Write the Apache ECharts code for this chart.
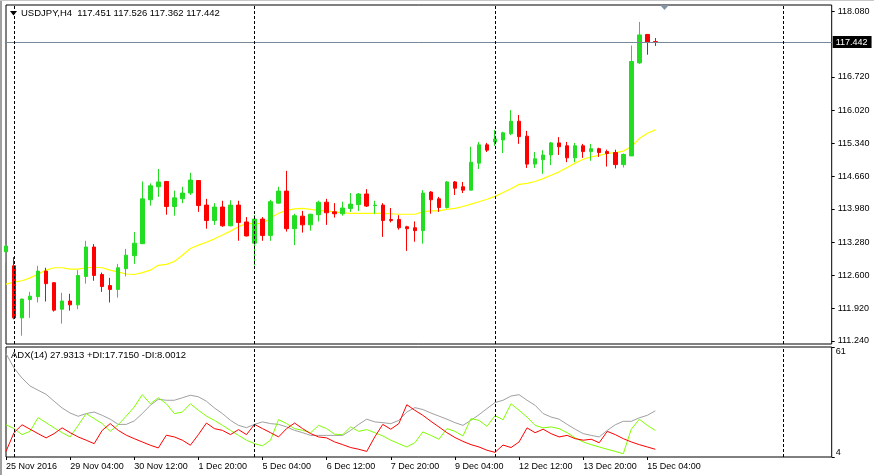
<!DOCTYPE html>
<html><head><meta charset="utf-8">
<script src="https://cdn.jsdelivr.net/npm/echarts@6/dist/echarts.min.js"></script>
<style>html,body{margin:0;padding:0;background:#fff}#c{width:874px;height:475px}</style>
</head><body><div id="c"></div>
<script>
// ---- data (USDJPY H4) ----
const opens  = [113.09,112.80,111.72,112.10,112.16,112.69,112.45,111.90,112.07,111.99,
                112.58,113.19,112.62,112.39,112.31,112.74,113.01,113.26,114.17,114.44,
                114.55,114.03,114.19,114.31,114.57,114.06,113.74,114.02,113.63,114.06,
                113.71,113.27,113.77,113.43,114.10,114.35,113.57,113.83,113.65,113.86,
                114.12,113.92,113.88,113.99,114.07,114.29,114.05,114.06,113.76,113.76,
                113.61,113.59,113.53,114.33,114.19,114.01,114.54,114.44,114.37,114.93,
                115.31,115.37,115.41,115.54,115.80,115.49,114.91,115.00,115.10,115.35,
                115.29,115.04,115.29,115.17,115.23,115.17,115.15,114.90,115.08,117.01,
                117.60,117.451];
const highs  = [113.25,112.98,112.12,112.26,112.80,112.76,112.46,112.24,112.22,112.71,
                113.32,113.25,112.66,112.55,112.84,113.15,113.50,114.55,114.51,114.81,
                114.56,114.36,114.44,114.73,114.58,114.19,114.10,114.15,114.16,114.15,
                113.81,113.85,113.81,114.17,114.44,114.77,113.88,113.94,113.88,114.15,
                114.19,114.10,114.13,114.31,114.31,114.39,114.15,114.10,114.00,113.85,
                113.63,113.72,114.37,114.35,114.23,114.56,114.56,114.54,115.27,115.37,
                115.35,115.62,115.58,116.03,115.93,115.60,115.16,115.20,115.37,115.47,
                115.37,115.35,115.33,115.33,115.25,115.21,115.21,115.13,117.37,117.86,
                117.61,117.526];
const lows   = [112.86,111.69,111.35,111.72,112.04,112.06,111.85,111.60,111.87,111.90,
                112.43,112.49,112.26,112.04,112.14,112.58,112.84,113.25,114.05,114.23,
                113.86,113.84,114.10,114.27,113.92,113.57,113.65,113.61,113.62,113.32,
                113.41,112.81,113.32,113.32,114.09,113.51,113.23,113.49,113.53,113.72,
                113.65,113.80,113.84,113.92,113.94,114.02,113.88,113.40,113.70,113.55,
                113.11,113.30,113.26,113.88,113.92,113.99,114.27,114.31,114.37,114.81,
                115.16,115.29,115.14,115.51,115.33,114.83,114.83,114.71,114.89,115.10,
                114.95,114.95,115.04,114.98,115.06,114.86,114.82,114.84,115.08,116.99,
                117.18,117.362];
const closes = [113.21,111.72,112.11,112.17,112.69,112.43,111.88,112.07,111.99,112.60,
                113.19,112.60,112.37,112.31,112.76,113.02,113.27,114.19,114.46,114.54,
                114.03,114.21,114.31,114.58,114.05,113.74,114.02,113.63,114.06,113.70,
                113.42,113.77,113.43,114.13,114.35,113.57,113.84,113.65,113.87,114.12,
                113.90,113.88,114.00,114.08,114.29,114.04,114.06,113.74,113.74,113.59,
                113.57,113.53,114.31,114.17,114.01,114.54,114.41,114.37,114.95,115.31,
                115.20,115.43,115.56,115.80,115.48,114.91,115.02,115.10,115.35,115.27,
                115.04,115.29,115.17,115.23,115.15,115.13,114.90,115.11,117.04,117.59,
                117.44,117.442];
const movingAvg = [112.42,112.46,112.49,112.55,112.63,112.71,112.76,112.76,112.73,112.73,
                112.76,112.77,112.76,112.71,112.67,112.63,112.62,112.66,112.71,112.81,
                112.83,112.89,113.02,113.16,113.23,113.29,113.36,113.44,113.52,113.61,
                113.68,113.67,113.68,113.79,113.89,113.95,113.98,113.99,113.97,113.95,
                113.94,113.92,113.90,113.89,113.89,113.89,113.89,113.89,113.88,113.87,
                113.87,113.87,113.92,113.94,113.94,113.97,113.99,114.03,114.08,114.13,
                114.18,114.24,114.32,114.40,114.49,114.51,114.55,114.61,114.68,114.75,
                114.84,114.93,115.01,115.06,115.09,115.13,115.15,115.18,115.27,115.44,
                115.55,115.62];
const adx = [57.6,50.1,44.9,40.8,38.6,36.5,32.9,29.4,26.8,25.1,
             26.5,27.3,25.6,23.6,20.9,20.9,22.7,26.5,30.8,33.9,
             33.4,33.4,34.7,36.0,35.2,32.9,29.4,26.5,23.0,20.4,
             19.2,20.9,22.2,21.3,20.9,19.6,17.8,16.6,15.2,15.2,
             15.2,15.2,15.2,17.8,20.9,23.6,22.2,21.8,21.3,23.0,
             27.3,29.6,28.6,26.8,25.2,23.6,21.8,20.4,23.0,25.9,
             29.1,32.2,33.4,35.6,36.3,33.4,30.8,26.5,24.7,23.6,
             20.9,18.4,16.1,15.2,14.4,17.8,20.7,22.5,22.5,24.3,
             25.6,27.9313];
const plusDI = [20.7,18.7,15.6,17.3,24.4,21.8,19.1,16.6,14.4,20.4,
                26.5,23.9,21.3,17.3,20.7,25.2,29.9,36.3,31.6,34.7,
                31.6,26.5,27.3,31.6,28.2,25.2,23.0,20.4,17.8,15.2,
                12.7,10.9,9.8,12.7,23.4,21.3,18.7,17.8,16.6,20.4,
                18.7,15.8,15.6,19.6,17.3,18.2,16.6,14.9,12.7,10.9,
                9.2,11.4,17.0,15.2,13.2,18.7,17.3,14.9,23.9,23.0,
                19.9,25.4,23.3,31.6,28.2,24.7,20.4,19.1,19.6,18.7,
                16.6,13.9,11.8,10.4,9.2,8.0,6.9,5.7,18.4,23.6,
                20.4,17.715];
const minusDI = [6.9,16.6,20.7,18.4,16.1,13.9,16.1,19.1,16.6,14.4,
                 12.7,10.9,17.8,21.3,17.8,15.3,13.5,11.8,10.1,8.7,
                 15.3,14.4,12.7,10.1,15.6,21.6,18.7,17.8,15.6,18.2,
                 15.6,20.9,18.7,16.6,14.4,18.7,21.6,18.7,16.1,14.4,
                 13.9,11.8,10.4,8.9,8.0,6.9,14.4,20.9,18.4,21.3,
                 31.1,28.2,25.6,22.5,19.6,16.6,14.1,12.1,10.4,9.2,
                 7.5,6.4,10.2,8.9,11.8,19.1,16.6,18.4,16.1,14.4,
                 15.2,13.5,12.7,13.2,11.4,17.3,15.6,13.5,11.8,10.4,
                 9.2,8.0012];
const xTickLabels = ['25 Nov 2016','29 Nov 04:00','30 Nov 12:00','1 Dec 20:00','5 Dec 04:00',
                     '6 Dec 12:00','7 Dec 20:00','9 Dec 04:00','12 Dec 12:00','13 Dec 20:00','15 Dec 04:00'];
const labelEvery = 8;          // one time label every 8 bars
const slotCount = 104;         // bars + empty right-shift area
const priceTicks = [111.24,111.92,112.60,113.28,113.98,114.66,115.34,116.02,116.72,118.08];
const adxTicks = [4, 61];
const separators = [1, 31, 61, 97];   // weekly period separators (bar index)
const lastPrice = 117.442;
const header = 'USDJPY,H4  117.451 117.526 117.362 117.442';
const adxHeader = 'ADX(14) 27.9313 +DI:17.7150 -DI:8.0012';

// ---- chart ----
const FONT = '"Liberation Sans", Arial, sans-serif';
const cats = Array.from({length: slotCount}, (_, i) => String(i));
const isLabelIdx = (i) => i % labelEvery === 0 && i / labelEvery < xTickLabels.length;
const ohlc = opens.map((o, i) => [o, closes[i], lows[i], highs[i]]);
const sepLines = separators.map(s => ({xAxis: String(s), lineStyle: {color: '#000', type: [3, 2], width: 1}, label: {show: false}}));

const chart = echarts.init(document.getElementById('c'), null, {renderer: 'canvas'});
chart.setOption({
  animation: false,
  backgroundColor: '#fff',
  textStyle: {fontFamily: FONT},
  title: [
    {text: header, left: 21, top: 8.5, padding: 0, textStyle: {fontSize: 9.5, fontWeight: 'normal', color: '#000', fontFamily: FONT}},
    {text: adxHeader, left: 11, top: 350.5, padding: 0, textStyle: {fontSize: 9.5, fontWeight: 'normal', color: '#000', fontFamily: FONT}}
  ],
  grid: [
    {left: 6, top: 5, width: 825.7, height: 339, show: true, borderColor: '#000', borderWidth: 1, backgroundColor: '#fff'},
    {left: 6, top: 347, width: 825.7, height: 110, show: true, borderColor: '#000', borderWidth: 1, backgroundColor: '#fff'}
  ],
  xAxis: [
    {type: 'category', gridIndex: 0, data: cats, boundaryGap: false,
     axisLine: {show: false}, axisTick: {show: false}, axisLabel: {show: false}, splitLine: {show: false}},
    {type: 'category', gridIndex: 1, data: cats, boundaryGap: false,
     axisLine: {show: false}, splitLine: {show: false},
     axisTick: {show: true, length: 3, interval: (i) => isLabelIdx(i), lineStyle: {color: '#000'}},
     axisLabel: {interval: (i) => isLabelIdx(i), formatter: (v, i) => isLabelIdx(i) ? xTickLabels[i / labelEvery] : '',
                 align: 'left', margin: 5, fontSize: 9, color: '#000', fontFamily: FONT}}
  ],
  yAxis: [
    {type: 'value', gridIndex: 0, position: 'right', min: 111.178, max: 118.211,
     axisLine: {show: false}, splitLine: {show: false},
     axisTick: {show: true, length: 3, customValues: priceTicks, lineStyle: {color: '#000'}},
     axisLabel: {customValues: priceTicks, formatter: (v) => v.toFixed(3), fontSize: 9, color: '#000', margin: 6, fontFamily: FONT}},
    {type: 'value', gridIndex: 1, position: 'right', min: 4, max: 61,
     axisLine: {show: false}, splitLine: {show: false},
     axisTick: {show: true, length: 3, customValues: adxTicks, lineStyle: {color: '#000'}},
     axisLabel: {customValues: adxTicks, formatter: (v) => String(v), fontSize: 9, color: '#000', margin: 4, fontFamily: FONT,
                 verticalAlignMinLabel: 'bottom', verticalAlignMaxLabel: 'top'}}
  ],
  series: [
    {type: 'candlestick', xAxisIndex: 0, yAxisIndex: 0, data: ohlc, barWidth: 4, clip: true,
     itemStyle: {color: '#22dd22', color0: '#ff0000', borderColor: '#22dd22', borderColor0: '#ff0000', borderWidth: 1},
     markLine: {symbol: ['none', 'none'], silent: true, animation: false, precision: 3,
       data: [
         {yAxis: lastPrice, lineStyle: {color: '#778899', type: 'solid', width: 1},
          label: {show: true, position: 'end', formatter: lastPrice.toFixed(3), backgroundColor: '#000', color: '#fff',
                  padding: [2, 4, 1, 3], fontSize: 9, distance: 1, fontFamily: FONT}}
       ].concat(sepLines)}
    },
    {type: 'line', xAxisIndex: 0, yAxisIndex: 0, data: movingAvg, showSymbol: false, symbol: 'none',
     lineStyle: {color: '#ffff00', width: 1.2}, z: 1},
    {type: 'line', xAxisIndex: 1, yAxisIndex: 1, data: adx, showSymbol: false, symbol: 'none',
     lineStyle: {color: '#a0a0a0', width: 1},
     markLine: {symbol: ['none', 'none'], silent: true, animation: false, data: sepLines}},
    {type: 'line', xAxisIndex: 1, yAxisIndex: 1, data: plusDI, showSymbol: false, symbol: 'none',
     lineStyle: {color: '#80ff00', width: 1}},
    {type: 'line', xAxisIndex: 1, yAxisIndex: 1, data: minusDI, showSymbol: false, symbol: 'none',
     lineStyle: {color: '#ff0000', width: 1}}
  ],
  graphic: [
    {type: 'rect', shape: {x: 0, y: 0, width: 2, height: 475}, style: {fill: '#a0a0a0'}, silent: true},
    {type: 'rect', shape: {x: 0, y: 0, width: 874, height: 1}, style: {fill: '#c8c8c8'}, silent: true},
    {type: 'polygon', shape: {points: [[10, 11], [17, 11], [13.5, 15.5]]}, style: {fill: '#000'}, silent: true},
    {type: 'polygon', shape: {points: [[660, 5], [669, 5], [664.5, 10]]}, style: {fill: '#8494a4'}, silent: true}
  ]
});
</script></body></html>
